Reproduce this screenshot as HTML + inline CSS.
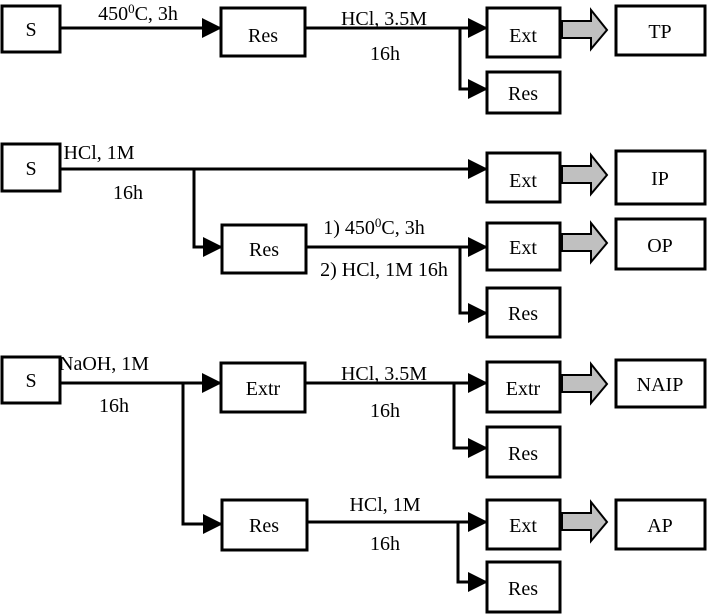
<!DOCTYPE html>
<html><head><meta charset="utf-8"><style>
html,body{margin:0;padding:0;background:#fff;}
svg{display:block;}
text{font-family:"Liberation Serif",serif;font-size:20px;fill:#000;}
</style></head><body>
<svg width="708" height="615" viewBox="0 0 708 615" xmlns="http://www.w3.org/2000/svg">
<defs>
<marker id="a" markerWidth="20" markerHeight="20" refX="19" refY="10" orient="auto" markerUnits="userSpaceOnUse">
<path d="M0,0 L20,10 L0,20 Z" fill="#000"/></marker>
</defs>
<g fill="#fff" stroke="#000" stroke-width="3">
<rect x="2" y="6" width="58" height="46"/>
<rect x="221" y="8" width="84" height="48"/>
<rect x="487" y="8" width="73" height="49"/>
<rect x="487" y="72" width="73" height="41"/>
<rect x="616" y="6" width="89" height="49"/>
<rect x="2" y="144" width="58" height="47"/>
<rect x="487" y="153" width="73" height="49"/>
<rect x="616" y="151" width="89" height="53"/>
<rect x="222" y="225" width="84" height="48"/>
<rect x="487" y="223" width="73" height="47"/>
<rect x="487" y="288" width="73" height="49"/>
<rect x="616" y="219" width="89" height="50"/>
<rect x="2" y="357" width="58" height="46"/>
<rect x="221" y="363" width="84" height="49"/>
<rect x="487" y="362" width="73" height="50"/>
<rect x="616" y="360" width="89" height="47"/>
<rect x="487" y="427" width="73" height="50"/>
<rect x="222" y="500" width="85" height="50"/>
<rect x="487" y="500" width="73" height="49"/>
<rect x="616" y="500" width="89" height="49"/>
<rect x="487" y="562" width="73" height="50"/>
</g>
<g stroke="#000" stroke-width="3" fill="none">
<line x1="60" y1="28" x2="221" y2="28" marker-end="url(#a)"/>
<line x1="305" y1="28" x2="487" y2="28" marker-end="url(#a)"/>
<polyline points="460,28 460,89 487,89" marker-end="url(#a)"/>
<line x1="60" y1="169" x2="487" y2="169" marker-end="url(#a)"/>
<polyline points="194,169 194,247 222,247" marker-end="url(#a)"/>
<line x1="306" y1="247" x2="487" y2="247" marker-end="url(#a)"/>
<polyline points="460,247 460,313 487,313" marker-end="url(#a)"/>
<line x1="60" y1="383" x2="221" y2="383" marker-end="url(#a)"/>
<polyline points="183,383 183,524 222,524" marker-end="url(#a)"/>
<line x1="305" y1="383" x2="487" y2="383" marker-end="url(#a)"/>
<polyline points="454,383 454,448 487,448" marker-end="url(#a)"/>
<line x1="307" y1="522" x2="487" y2="522" marker-end="url(#a)"/>
<polyline points="458,522 458,582 487,582" marker-end="url(#a)"/>
</g>
<g fill="#c0c0c0" stroke="#000" stroke-width="2">
<path d="M562,21 L591,21 L591,10 L607,30 L591,49 L591,38 L562,38 Z"/>
<path d="M562,166 L591,166 L591,155 L607,175 L591,194 L591,183 L562,183 Z"/>
<path d="M562,234 L591,234 L591,223 L607,243 L591,262 L591,251 L562,251 Z"/>
<path d="M562,375 L591,375 L591,364 L607,384 L591,403 L591,392 L562,392 Z"/>
<path d="M562,513 L591,513 L591,502 L607,522 L591,541 L591,530 L562,530 Z"/>
</g>
<g text-anchor="middle">
<text x="31" y="36">S</text>
<text x="263" y="42">Res</text>
<text x="523" y="42">Ext</text>
<text x="523" y="100">Res</text>
<text x="660" y="38">TP</text>
<text x="31" y="175">S</text>
<text x="523" y="187">Ext</text>
<text x="660" y="185">IP</text>
<text x="264" y="256">Res</text>
<text x="523" y="254">Ext</text>
<text x="523" y="320">Res</text>
<text x="660" y="252">OP</text>
<text x="31" y="387">S</text>
<text x="263" y="395">Extr</text>
<text x="523" y="395">Extr</text>
<text x="660" y="391">NAIP</text>
<text x="523" y="460">Res</text>
<text x="264" y="532">Res</text>
<text x="523" y="532">Ext</text>
<text x="660" y="532">AP</text>
<text x="523" y="595">Res</text>
<text x="138" y="20">450<tspan dy="-7" font-size="13">0</tspan><tspan dy="7">C, 3h</tspan></text>
<text x="384" y="25">HCl, 3.5M</text>
<text x="385" y="60">16h</text>
<text x="99" y="159">HCl, 1M</text>
<text x="128" y="199">16h</text>
<text x="374" y="234">1) 450<tspan dy="-7" font-size="13">0</tspan><tspan dy="7">C, 3h</tspan></text>
<text x="384" y="276">2) HCl, 1M 16h</text>
<text x="104" y="370">NaOH, 1M</text>
<text x="114" y="412">16h</text>
<text x="384" y="380">HCl, 3.5M</text>
<text x="385" y="417">16h</text>
<text x="385" y="511">HCl, 1M</text>
<text x="385" y="550">16h</text>
</g>
</svg>
</body></html>
